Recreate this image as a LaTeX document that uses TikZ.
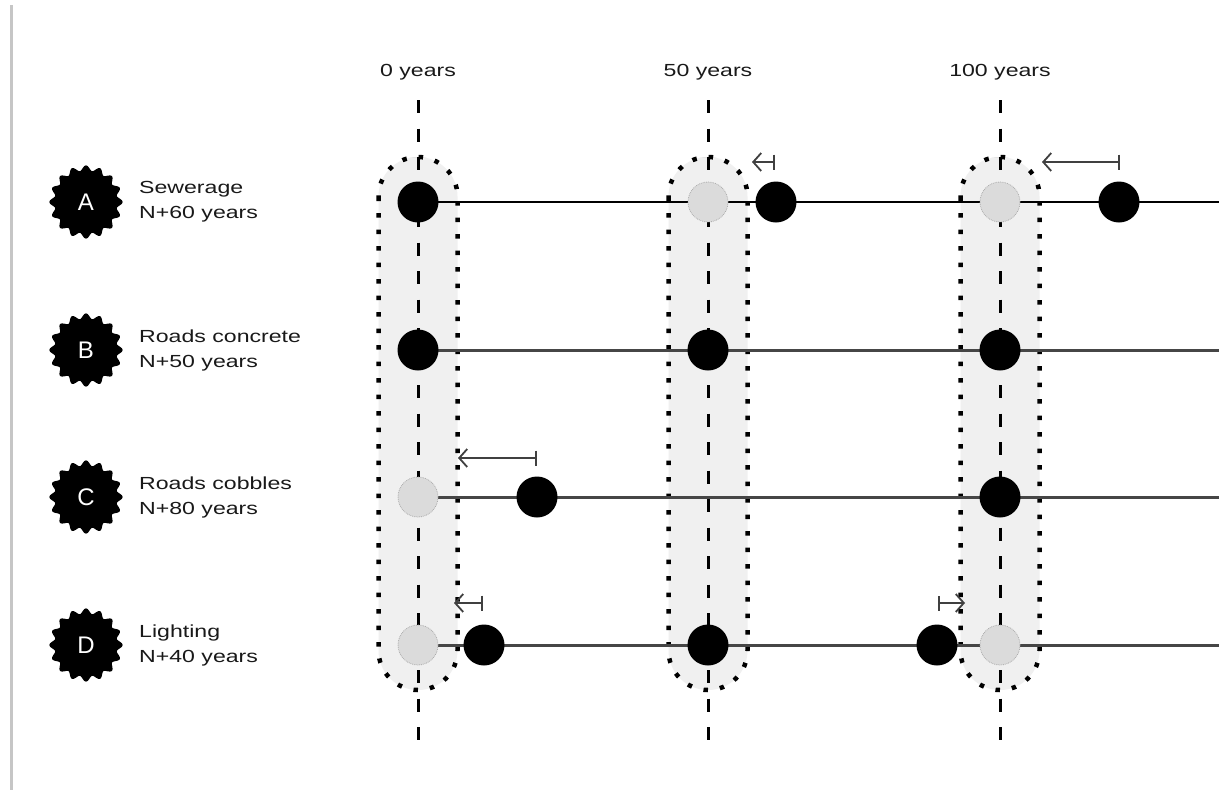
\documentclass[tikz,border=0pt]{standalone}
\usepackage{fontspec}
\setmainfont{Liberation Sans}
\newfontfamily\labfont[FakeStretch=1.32]{Liberation Sans}
\usetikzlibrary{arrows.meta}
\begin{document}
\begin{tikzpicture}[x=1pt,y=-1pt,
  blk/.style={circle,fill=black,minimum size=41pt,inner sep=0pt},
  gry/.style={circle,fill=gray!28,draw=gray!65,densely dotted,line width=0.8pt,minimum size=40pt,inner sep=0pt},
  badge/.style={text=white,font=\fontsize{24}{26}\selectfont,inner sep=0pt},
  lab/.style={anchor=west,align=left,inner sep=0pt,text=black!90,font=\labfont\fontsize{17.5}{25}\selectfont},
  coltitle/.style={inner sep=0pt,text=black!90,font=\labfont\fontsize{17.5}{20}\selectfont},
  vdash/.style={line width=3pt,dash pattern=on 13pt off 15.5pt},
  rowA/.style={line width=1.8pt,black},
  rowX/.style={line width=3pt,gray!55!black},
  stadfill/.style={fill=gray!12},
  staddots/.style={line width=4.5pt,dash pattern=on 4.5pt off 12pt,black},
  move/.style={line width=1.8pt,gray!50!black,{Bar[width=15pt,line width=1.8pt]}-{Straight Barb[length=8pt,width=18pt,line width=1.8pt]}},
]
\useasboundingbox (0,0) rectangle (1219,790);
\fill[white] (0,0) rectangle (1219,790);
% left rule
\draw[gray!45,line width=3pt] (11,5) -- (11,790);

% column stadiums
\foreach \cx in {418,708,1000}{
  \begin{scope}
    \clip[rounded corners=39.5pt] (\cx-39.5,157) rectangle (\cx+39.5,690);
    \fill[stadfill] (\cx-40,150) rectangle (\cx+40,700);
    \draw[gray!22,line width=0.4pt,step=7pt,shift={(\cx-39.5,157)}] (0,-540) grid (80,0);
  \end{scope}
  \draw[staddots,rounded corners=39.5pt] (\cx-39.5,157) rectangle (\cx+39.5,690);
}

% column titles and dashed lines
\node[coltitle] (t0) at (418,72) {0 years};
\node[coltitle] (t50) at (708,72) {50 years};
\node[coltitle] (t100) at (1000,72) {100 years};
\coordinate (d0top) at (418,100);   \coordinate (d0bot) at (418,755);
\coordinate (d50top) at (708,100);  \coordinate (d50bot) at (708,755);
\coordinate (d100top) at (1000,100);\coordinate (d100bot) at (1000,755);
\draw[vdash] (d0top) -- (d0bot);
\draw[vdash] (d50top) -- (d50bot);
\draw[vdash] (d100top) -- (d100bot);

% right-edge coordinates
\coordinate (eA) at (1219,202);
\coordinate (eB) at (1219,350);
\coordinate (eC) at (1219,497);
\coordinate (eD) at (1219,645);

% badges
\foreach \by in {202,350,497,645}{
  \fill[black,shift={(86,\by)}] plot[domain=0:360,samples=241,smooth cycle] (\x:{34+2.6*cos(16*\x)});
}
\node[badge] (bA) at (86,202) {A};
\node[badge] (bB) at (86,350) {B};
\node[badge] (bC) at (86,497) {C};
\node[badge] (bD) at (86,645) {D};
\node[lab] (lA) at (139,202) {Sewerage\\N+60 years};
\node[lab] (lB) at (139,350) {Roads concrete\\N+50 years};
\node[lab] (lC) at (139,497) {Roads cobbles\\N+80 years};
\node[lab] (lD) at (139,645) {Lighting\\N+40 years};

% row A
\coordinate (A0c) at (418,202);
\draw[rowA] (A0c) -- (eA);
\node[blk] (A0) at (418,202) {};
\node[gry] (A50) at (708,202) {};
\node[blk] (A60) at (776,202) {};
\node[gry] (A100) at (1000,202) {};
\node[blk] (A120) at (1119,202) {};

% row B
\coordinate (B0c) at (418,350);
\draw[rowX] (B0c) -- (eB);
\node[blk] (B0) at (418,350) {};
\node[blk] (B50) at (708,350) {};
\node[blk] (B100) at (1000,350) {};

% row C
\coordinate (C0c) at (418,497);
\draw[rowX] (C0c) -- (eC);
\node[gry] (C0) at (418,497) {};
\node[blk] (C20) at (537,497) {};
\node[blk] (C100) at (1000,497) {};

% row D
\coordinate (D0c) at (418,645);
\draw[rowX] (D0c) -- (eD);
\node[gry] (D0) at (418,645) {};
\node[blk] (D10) at (484,645) {};
\node[blk] (D50) at (708,645) {};
\node[blk] (D90) at (937,645) {};
\node[gry] (D100) at (1000,645) {};

% shift arrows
\coordinate (mA1s) at (775,162);  \coordinate (mA1e) at (752,162);
\coordinate (mA2s) at (1120,162); \coordinate (mA2e) at (1042,162);
\coordinate (mCs) at (537,458);   \coordinate (mCe) at (458,458);
\coordinate (mD1s) at (483,603);  \coordinate (mD1e) at (454,603);
\coordinate (mD2s) at (938,603);  \coordinate (mD2e) at (965,603);
\draw[move] (mA1s) -- (mA1e);
\draw[move] (mA2s) -- (mA2e);
\draw[move] (mCs) -- (mCe);
\draw[move] (mD1s) -- (mD1e);
\draw[move] (mD2s) -- (mD2e);
\end{tikzpicture}
\end{document}
